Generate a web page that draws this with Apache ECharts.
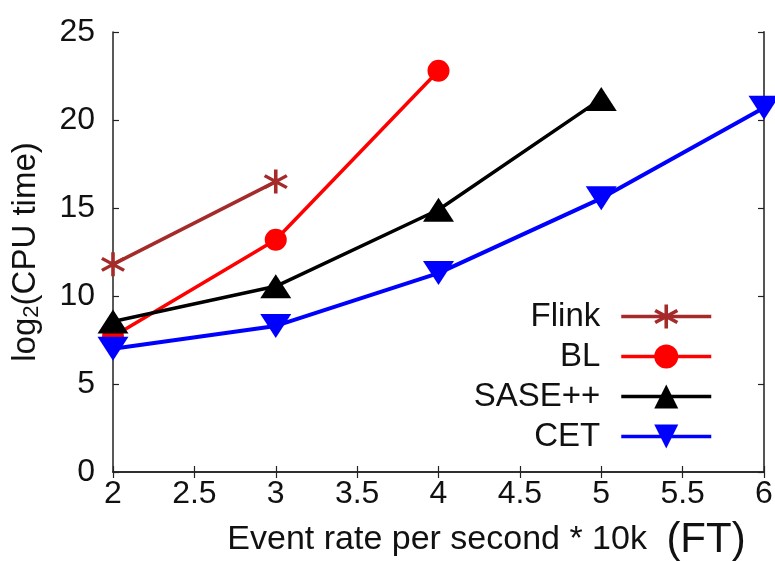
<!DOCTYPE html>
<html>
<head>
<meta charset="utf-8">
<script src="https://cdn.jsdelivr.net/npm/echarts@6/dist/echarts.min.js"></script>
<style>
html,body{margin:0;padding:0;background:#fff;}
#chart{width:775px;height:561px;}
</style>
</head>
<body>
<div id="chart"></div>
<script>
// ---- data ----
const xValues = [2, 3, 4, 5, 6];
const flinkValues = [11.8, 16.5];
const blValues = [7.7, 13.2, 22.8];
const saseValues = [8.55, 10.55, 14.9, 21.2];
const cetValues = [7.0, 8.3, 11.3, 15.55, 20.7];
const seriesNames = ['Flink', 'BL', 'SASE++', 'CET'];
const xTickLabels = ['2', '2.5', '3', '3.5', '4', '4.5', '5', '5.5', '6'];
const yTickLabels = ['0', '5', '10', '15', '20', '25'];

const FONT = 'Liberation Sans, Arial, Helvetica, sans-serif';
const pairs = vals => vals.map((v, i) => [xValues[i], v]);

const asterisk = 'path://M43 0L57 0L57 100L43 100Z' +
  'M10.2 19L96.8 69L89.8 81L3.2 31Z' +
  'M3.2 69L89.8 19L96.8 31L10.2 81Z';

const chart = echarts.init(document.getElementById('chart'), null, {renderer: 'canvas'});
const axisLine = {show: true, lineStyle: {color: '#222', width: 1.5}};
const tickIn = {show: true, inside: true, length: 6, lineStyle: {color: '#222', width: 1.2}};

const option = {
  animation: false,
  backgroundColor: '#fff',
  grid: {left: 113, right: 11, top: 32, bottom: 89, containLabel: false, outerBoundsMode: 'none'},
  xAxis: [{
    type: 'value', min: 2, max: 6, interval: 0.5, position: 'bottom',
    axisLine: axisLine, axisTick: tickIn, splitLine: {show: false},
    axisLabel: {
      margin: 6, fontSize: 32, color: '#111', fontFamily: FONT,
      formatter: v => xTickLabels[Math.round((v - 2) / 0.5)]
    },
    name: 'Event rate per second * 10k {ft|(FT)}',
    nameLocation: 'middle', nameGap: 47,
    nameTextStyle: {
      fontSize: 34, color: '#111', fontFamily: FONT, padding: [0, 0, 0, 96],
      rich: {ft: {fontSize: 42, color: '#111', fontFamily: FONT, padding: [0, 0, 0, 10]}}
    }
  }, {
    type: 'value', min: 2, max: 6, interval: 0.5, position: 'top',
    axisLine: axisLine, axisTick: tickIn, axisLabel: {show: false}, splitLine: {show: false}
  }],
  yAxis: [{
    type: 'value', min: 0, max: 25, interval: 5, position: 'left',
    axisLine: axisLine, axisTick: tickIn, splitLine: {show: false},
    axisLabel: {
      margin: 18, fontSize: 32, color: '#111', fontFamily: FONT,
      formatter: v => yTickLabels[Math.round(v / 5)]
    },
    name: 'log{sub|2}(CPU time)',
    nameLocation: 'middle', nameGap: 70, nameRotate: 90,
    nameTextStyle: {
      fontSize: 33, color: '#111', fontFamily: FONT,
      rich: {sub: {fontSize: 22, color: '#111', fontFamily: FONT, padding: [13, 0, 0, 0]}}
    }
  }, {
    type: 'value', min: 0, max: 25, interval: 5, position: 'right',
    axisLine: {show: true, lineStyle: {color: '#555', width: 2}}, axisTick: tickIn,
    axisLabel: {show: false}, splitLine: {show: false}
  }],
  legend: {
    orient: 'vertical', right: 62, top: 300, padding: 0,
    align: 'right', itemWidth: 90, itemHeight: 30, itemGap: 7,
    data: seriesNames,
    lineStyle: {width: 3.5},
    textStyle: {fontSize: 33, color: '#111', fontFamily: FONT, lineHeight: 33, padding: [0, 16, 0, 0]}
  },
  series: [{
    name: seriesNames[0], type: 'line', data: pairs(flinkValues),
    symbol: asterisk, symbolSize: 24,
    lineStyle: {color: '#a52a2a', width: 3.5}, itemStyle: {color: '#a52a2a'}
  }, {
    name: seriesNames[1], type: 'line', data: pairs(blValues),
    symbol: 'circle', symbolSize: 22,
    lineStyle: {color: '#ff0000', width: 3.5}, itemStyle: {color: '#ff0000'}
  }, {
    name: seriesNames[2], type: 'line', data: pairs(saseValues),
    symbol: 'triangle', symbolSize: [31, 24],
    lineStyle: {color: '#000000', width: 3.5}, itemStyle: {color: '#000000'}
  }, {
    name: seriesNames[3], type: 'line', data: pairs(cetValues),
    symbol: 'triangle', symbolRotate: 180, symbolSize: [31, 24],
    lineStyle: {color: '#0000ff', width: 4}, itemStyle: {color: '#0000ff'}
  }]
};
chart.setOption(option);
</script>
</body>
</html>
